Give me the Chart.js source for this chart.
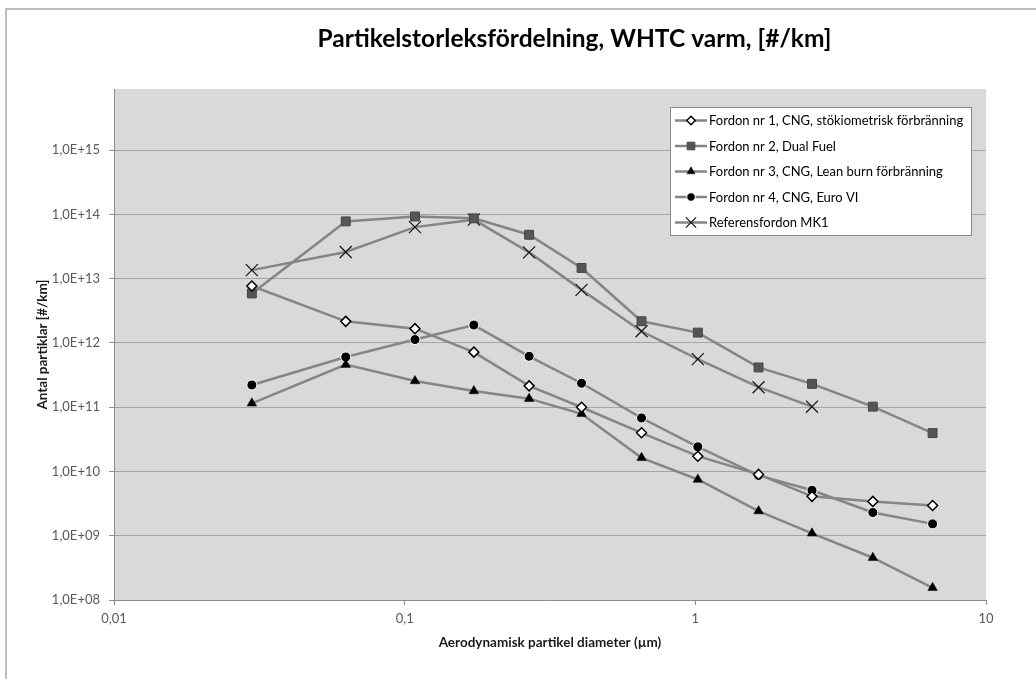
<!DOCTYPE html>
<html lang="sv">
<head>
<meta charset="utf-8">
<title>Partikelstorleksfördelning, WHTC varm</title>
<script src="https://cdn.jsdelivr.net/npm/chart.js@4.4.1/dist/chart.umd.min.js"></script>
<style>
    html, body { margin: 0; padding: 0; background: #fff; }
    #wrap { position: relative; width: 1036px; height: 679px; overflow: hidden; }
</style>
</head>
<body>
<div id="wrap"><canvas id="chart"></canvas></div>
<script>
// Partikeldiameter (µm) för varje mätsteg
const diametrar = [0.0298, 0.0627, 0.1085, 0.173, 0.268, 0.406, 0.653, 1.02, 1.65, 2.52, 4.08, 6.55];

// Antal partiklar per km för varje fordon
const fordon1 = [7.7e12, 2.17e12, 1.67e12, 7.2e11, 2.15e11, 1.0e11, 4.0e10, 1.73e10, 9.0e9, 4.1e9, 3.42e9, 2.96e9];
const fordon2 = [5.9e12, 7.8e13, 9.3e13, 8.7e13, 4.83e13, 1.47e13, 2.18e12, 1.45e12, 4.16e11, 2.31e11, 1.02e11, 3.96e10];
const fordon3 = [1.15e11, 4.6e11, 2.56e11, 1.79e11, 1.36e11, 7.9e10, 1.63e10, 7.5e9, 2.42e9, 1.09e9, 4.55e8, 1.55e8];
const fordon4 = [2.22e11, 6.05e11, 1.13e12, 1.9e12, 6.2e11, 2.36e11, 6.8e10, 2.42e10, 8.7e9, 5.1e9, 2.3e9, 1.53e9];
const referens = [1.36e13, 2.6e13, 6.35e13, 8.3e13, 2.57e13, 6.7e12, 1.52e12, 5.6e11, 2.05e11, 1.02e11, null, null];

const serieNamn = [
    'Fordon nr 1, CNG, stökiometrisk förbränning',
    'Fordon nr 2, Dual Fuel',
    'Fordon nr 3, CNG, Lean burn förbränning',
    'Fordon nr 4, CNG, Euro VI',
    'Referensfordon MK1'
];

// Axelmarkeringar
const xTicks = [0.01, 0.1, 1, 10];
const yTicks = [1e8, 1e9, 1e10, 1e11, 1e12, 1e13, 1e14, 1e15];

const FONT = 'Lato, "Open Sans", sans-serif';
const LINJEFARG = '#858585';

// Gör om till {x, y} och hoppa över saknade värden
function punkter(values) {
    return values
        .map((v, i) => ({ x: diametrar[i], y: v }))
        .filter(p => p.y !== null);
}

function serie(label, values, stil) {
    return Object.assign({
        label: label,
        data: punkter(values),
        borderColor: LINJEFARG,
        borderWidth: 2.5,
        tension: 0,
        fill: false
    }, stil);
}

const datasets = [
    serie(serieNamn[0], fordon1, {
        pointStyle: 'rectRot', pointRadius: 5,
        pointBackgroundColor: '#ffffff', pointBorderColor: '#000000', pointBorderWidth: 1.5
    }),
    serie(serieNamn[1], fordon2, {
        pointStyle: 'rect', pointRadius: 6.3,
        pointBackgroundColor: '#555555', pointBorderColor: '#464646', pointBorderWidth: 1
    }),
    serie(serieNamn[2], fordon3, {
        pointStyle: 'triangle', pointRadius: 5.5,
        pointBackgroundColor: '#000000', pointBorderColor: '#000000', pointBorderWidth: 0.5
    }),
    serie(serieNamn[3], fordon4, {
        pointStyle: 'circle', pointRadius: 5,
        pointBackgroundColor: '#000000', pointBorderColor: '#ffffff', pointBorderWidth: 1
    }),
    serie(serieNamn[4], referens, {
        pointStyle: 'crossRot', pointRadius: 8.5,
        pointBackgroundColor: '#000000', pointBorderColor: '#1a1a1a', pointBorderWidth: 1.3
    })
];

// Ram runt diagrammet och grå bakgrund i ritytan
const bakgrund = {
    id: 'bakgrund',
    beforeDraw(chart) {
        const { ctx, chartArea: a } = chart;
        ctx.save();
        ctx.fillStyle = '#ffffff';
        ctx.fillRect(0, 0, chart.width, chart.height);
        ctx.strokeStyle = '#bdbdbd';
        ctx.lineWidth = 2;
        ctx.strokeRect(6, 9, chart.width + 40, chart.height + 40);
        ctx.fillStyle = '#d9d9d9';
        ctx.fillRect(a.left, a.top, a.right - a.left, a.bottom - a.top);
        ctx.restore();
    }
};

// Rubrik och förklaringsruta
const rubrikOchForklaring = {
    id: 'rubrikOchForklaring',
    afterDraw(chart) {
        const ctx = chart.ctx;
        ctx.save();

        ctx.fillStyle = '#000000';
        ctx.font = 'bold 24.5px ' + FONT;
        ctx.textAlign = 'center';
        ctx.textBaseline = 'alphabetic';
        ctx.fillText('Partikelstorleksfördelning, WHTC varm, [#/km]', 574.5, 47);

        const box = { x: 670.5, y: 107.5, w: 301, h: 128 };
        ctx.fillStyle = '#ffffff';
        ctx.fillRect(box.x, box.y, box.w, box.h);
        ctx.strokeStyle = '#8c8c8c';
        ctx.lineWidth = 1;
        ctx.strokeRect(box.x, box.y, box.w, box.h);

        ctx.textAlign = 'left';
        ctx.textBaseline = 'middle';
        ctx.font = '13px ' + FONT;
        chart.data.datasets.forEach((ds, i) => {
            const y = 120.5 + i * 25.5;
            ctx.strokeStyle = ds.borderColor;
            ctx.lineWidth = 2.5;
            ctx.beginPath();
            ctx.moveTo(675, y);
            ctx.lineTo(707, y);
            ctx.stroke();

            ctx.fillStyle = ds.pointBackgroundColor;
            ctx.strokeStyle = ds.pointBorderColor;
            ctx.lineWidth = ds.pointBorderWidth;
            Chart.helpers.drawPoint(ctx, {
                pointStyle: ds.pointStyle,
                radius: ds.pointRadius * 0.85,
                rotation: 0,
                borderWidth: ds.pointBorderWidth
            }, 691, y);

            ctx.fillStyle = '#000000';
            ctx.fillText(ds.label, 709, y + 0.5);
        });
        ctx.restore();
    }
};

new Chart(document.getElementById('chart'), {
    type: 'line',
    data: { datasets: datasets },
    options: {
        responsive: true,
        maintainAspectRatio: false,
        animation: false,
        events: [],
        layout: { padding: { left: 0, top: 89, right: 50, bottom: 0 } },
        plugins: {
            legend: { display: false },
            title: { display: false },
            tooltip: { enabled: false }
        },
        scales: {
            x: {
                type: 'logarithmic',
                min: 0.01,
                max: 10,
                afterBuildTicks: scale => { scale.ticks = xTicks.map(v => ({ value: v })); },
                afterFit: scale => { scale.height = 79; },
                grid: {
                    drawOnChartArea: false,
                    drawTicks: true,
                    tickLength: 5,
                    tickColor: '#8c8c8c'
                },
                border: { display: true, color: '#8c8c8c', width: 1 },
                ticks: {
                    padding: 6,
                    color: '#595959',
                    font: { family: FONT, size: 13 },
                    maxRotation: 0,
                    callback: v => String(v).replace('.', ',')
                },
                title: {
                    display: true,
                    text: 'Aerodynamisk partikel diameter (µm)',
                    color: '#1a1a1a',
                    font: { family: FONT, size: 13.5, weight: 'bold' },
                    padding: { top: 0, bottom: 28 }
                }
            },
            y: {
                type: 'logarithmic',
                min: 1e8,
                max: 8.96e15,
                afterBuildTicks: scale => { scale.ticks = yTicks.map(v => ({ value: v })); },
                afterFit: scale => { scale.width = 114; },
                grid: {
                    color: '#a5a5a5',
                    lineWidth: 1,
                    drawTicks: true,
                    tickLength: 5,
                    tickColor: '#8c8c8c'
                },
                border: { display: true, color: '#8c8c8c', width: 1 },
                ticks: {
                    padding: 9,
                    color: '#595959',
                    font: { family: FONT, size: 13 },
                    callback: v => '1,0E+' + String(Math.round(Math.log10(v))).padStart(2, '0')
                },
                title: {
                    display: true,
                    text: 'Antal partiklar [#/km]',
                    color: '#1a1a1a',
                    font: { family: FONT, size: 13.5, weight: 'bold' },
                    padding: { top: 35, bottom: 0 }
                }
            }
        }
    },
    plugins: [bakgrund, rubrikOchForklaring]
});
</script>
</body>
</html>
